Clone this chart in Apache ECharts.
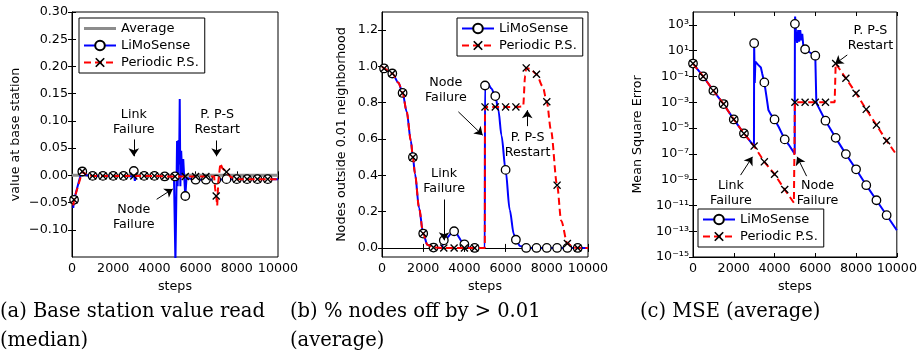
<!DOCTYPE html>
<html>
<head>
<meta charset="utf-8">
<script src="https://cdn.jsdelivr.net/npm/echarts@6/dist/echarts.min.js"></script>
<style>
html, body { margin: 0; padding: 0; background: #fff; }
#chart { width: 920px; height: 358px; }
</style>
</head>
<body>
<div id="chart"></div>
<script>
// ---- data ----
// (a) base station value (median)
var avgSteps = [0, 10000];
var avgVals = [0, 0];
var aLimoSteps = [60, 100, 450, 500, 700, 1000, 1500, 2000, 2500, 2950, 3000, 3050, 3100, 3500, 4000, 4500, 4950, 5000, 5020, 5050, 5080, 5100, 5130, 5170, 5200, 5230, 5260, 5300, 5350, 5400, 5450, 5500, 5560, 5600, 6000, 6500, 7000, 7500, 8000, 8500, 9000, 9500, 10000];
var aLimoVals = [-0.060, -0.045, 0.005, 0.007, 0.000, -0.001, -0.001, -0.001, -0.001, -0.002, 0.008, -0.010, -0.001, -0.001, -0.001, -0.002, -0.002, -0.002, -0.160, -0.160, 0.000, 0.063, -0.020, 0.065, 0.020, 0.140, -0.020, 0.045, 0.000, 0.030, -0.005, -0.038, -0.005, -0.007, -0.008, -0.008, -0.008, -0.007, -0.007, -0.007, -0.007, -0.007, -0.007];
var aPpsSteps = [60, 100, 500, 700, 1000, 1500, 2000, 2500, 3000, 3500, 4000, 4500, 5000, 5500, 6000, 6500, 6900, 6950, 7000, 7050, 7100, 7150, 7200, 7300, 7500, 7700, 8000, 8500, 9000, 9500, 10000];
var aPpsVals = [-0.055, -0.045, 0.007, 0.001, -0.001, -0.001, -0.001, -0.001, -0.001, -0.001, -0.001, -0.002, -0.002, -0.002, -0.002, -0.002, -0.002, -0.025, -0.038, -0.056, -0.012, 0.005, 0.022, 0.013, 0.006, -0.003, -0.007, -0.007, -0.007, -0.007, -0.007];
var abMarks = [100, 500, 1000, 1500, 2000, 2500, 3000, 3500, 4000, 4500, 5000, 5500, 6000, 6500, 7000, 7500, 8000, 8500, 9000, 9500];

// (b) fraction of nodes outside 0.01 neighborhood
var bLimoSteps = [0, 100, 500, 800, 1000, 1200, 1400, 1500, 1600, 1800, 2000, 2200, 2500, 2900, 3000, 3500, 4000, 4250, 4500, 4990, 5000, 5150, 5300, 5500, 5650, 5800, 6000, 6200, 6400, 6500, 6700, 7000, 7500, 8000, 8500, 9000, 9500, 10000];
var bLimoVals = [1.0, 0.989, 0.961, 0.91, 0.854, 0.75, 0.59, 0.50, 0.41, 0.22, 0.079, 0.018, 0.002, 0.0, 0.042, 0.092, 0.02, 0.002, 0.0, 0.0, 0.895, 0.905, 0.88, 0.837, 0.76, 0.62, 0.43, 0.21, 0.075, 0.045, 0.01, 0.0, 0.0, 0.0, 0.0, 0.0, 0.0, 0.0];
var bPpsSteps = [0, 100, 500, 800, 1000, 1200, 1400, 1500, 1600, 1800, 2000, 2200, 2500, 3000, 3500, 4000, 4500, 4990, 5000, 5500, 6000, 6500, 6850, 6950, 7000, 7200, 7500, 7800, 8000, 8200, 8500, 8700, 9000, 9300, 9500, 10000];
var bPpsVals = [1.0, 0.989, 0.961, 0.91, 0.854, 0.75, 0.59, 0.50, 0.41, 0.22, 0.079, 0.018, 0.002, 0.0, 0.0, 0.0, 0.0, 0.0, 0.777, 0.777, 0.777, 0.777, 0.78, 0.95, 0.992, 0.985, 0.957, 0.89, 0.805, 0.65, 0.346, 0.15, 0.024, 0.003, 0.0, 0.0];

// (c) mean square error, stored as log10
var cLimoSteps = [0, 500, 1000, 1500, 2000, 2500, 2990, 3000, 3030, 3060, 3100, 3200, 3330, 3400, 3500, 3600, 3700, 3800, 4000, 4200, 4500, 4700, 4990, 5000, 5010, 5060, 5110, 5160, 5210, 5260, 5310, 5360, 5410, 5500, 5700, 5900, 6000, 6050, 6100, 6500, 7000, 7500, 8000, 8500, 9000, 9500, 10000];
var cLimoLog = [0, -1, -2.1, -3.14, -4.33, -5.42, -6.4, 1.58, -1.5, 0.15, 0.0, -0.1, -0.3, -0.8, -1.46, -2.5, -3.6, -3.9, -4.33, -4.9, -5.88, -6.3, -7.0, 3.08, 3.65, 2.2, 1.6, 2.6, 1.7, 2.6, 1.8, 2.3, 1.4, 1.11, 0.9, 0.7, 0.61, -2.96, -3.2, -4.43, -5.76, -7.02, -8.2, -9.43, -10.6, -11.76, -12.93];
var cPpsSteps = [0, 500, 1000, 1500, 2000, 2500, 3000, 3500, 4000, 4500, 4950, 4990, 5000, 5500, 6000, 6500, 6950, 7000, 7500, 8000, 8500, 9000, 9500, 10000];
var cPpsLog = [0, -1, -2.1, -3.14, -4.33, -5.42, -6.4, -7.62, -8.58, -9.77, -10.8, -10.8, -3.0, -3.0, -3.0, -3.0, -3.0, 0.0, -1.14, -2.3, -3.55, -4.77, -5.99, -7.1];
var cMarks = [0, 500, 1000, 1500, 2000, 2500, 3000, 3500, 4000, 4500, 5000, 5500, 6000, 6500, 7000, 7500, 8000, 8500, 9000, 9500];

// tick values
var aTicks = [-0.10, -0.05, 0.00, 0.05, 0.10, 0.15, 0.20, 0.25, 0.30];
var bTicks = [0.0, 0.2, 0.4, 0.6, 0.8, 1.0, 1.2];
var cTickExp = [-15, -13, -11, -9, -7, -5, -3, -1, 1, 3];

// annotations (text position + arrow tail/head, in data coordinates)
var aNotes = [
    { text: 'Link\nFailure', at: [3000, 0.098], tail: [3000, 0.066], head: [3000, 0.035] },
    { text: 'Node\nFailure', at: [3000, -0.077], tail: [4110, -0.044], head: [4890, -0.025] },
    { text: 'P. P-S\nRestart', at: [7050, 0.098], tail: [7020, 0.064], head: [7020, 0.035] }
];
var bNotes = [
    { text: 'Node\nFailure', at: [3100, 0.867], tail: [3708, 0.75], head: [4888, 0.621] },
    { text: 'Link\nFailure', at: [3015, 0.369], tail: [3015, 0.267], head: [3015, 0.042] },
    { text: 'P. P-S\nRestart', at: [7067, 0.568], tail: [7050, 0.671], head: [7050, 0.759] }
];
var cNotes = [
    { text: 'Link\nFailure', at: [1863, -10.08], tail: [2335, -8.65], head: [2918, -7.23] },
    { text: 'Node\nFailure', at: [6110, -10.08], tail: [5574, -8.73], head: [5107, -7.23] },
    { text: 'P. P-S\nRestart', at: [8706, 1.96], tail: [7568, 0.67], head: [6970, -0.03] }
];

var FONT = 'DejaVu Sans';
var FS = 12.7;
var X_PATH = 'path://M0,1.2L1.2,0L5,3.8L8.8,0L10,1.2L6.2,5L10,8.8L8.8,10L5,6.2L1.2,10L0,8.8L3.8,5Z';
var SUP = { '0': '\u2070', '1': '\u00b9', '2': '\u00b2', '3': '\u00b3', '4': '\u2074', '5': '\u2075', '6': '\u2076', '7': '\u2077', '8': '\u2078', '9': '\u2079', '-': '\u207b' };

function pow10(arr) {
    return arr.map(function (e) { return Math.pow(10, e); });
}
function toData(steps, vals, marks, sym) {
    return steps.map(function (s, i) {
        return { value: [s, vals[i]], symbol: marks.indexOf(s) >= 0 ? sym : 'none' };
    });
}
function logLabel(v) {
    var e = String(Math.round(Math.log10(v)));
    return '10' + e.split('').map(function (c) { return SUP[c]; }).join('');
}
function minusLabel(v) {
    var s = Math.abs(v).toFixed(2);
    return v < -1e-9 ? '\u2212' + s : s;
}
function noteMarks(notes, isLog) {
    var yv = function (y) { return isLog ? Math.pow(10, y) : y; };
    return {
        markPoint: {
            silent: true,
            symbol: 'circle',
            symbolSize: 1,
            itemStyle: { color: 'rgba(0,0,0,0)' },
            label: {
                show: true, position: 'inside', color: '#000', fontFamily: FONT,
                fontSize: FS, lineHeight: 15, align: 'center',
                formatter: function (p) { return p.name; }
            },
            data: notes.map(function (n) { return { name: n.text, coord: [n.at[0], yv(n.at[1])] }; })
        },
        markLine: {
            silent: true,
            symbol: ['none', 'arrow'],
            symbolSize: 8,
            label: { show: false },
            lineStyle: { color: '#000', width: 1, type: 'solid' },
            data: notes.map(function (n) {
                return [{ coord: [n.tail[0], yv(n.tail[1])] }, { coord: [n.head[0], yv(n.head[1])] }];
            })
        }
    };
}

var grids = [
    { left: 72, top: 12, width: 206, height: 245 },
    { left: 382, top: 12, width: 206, height: 245 },
    { left: 693, top: 12, width: 205, height: 245 }
];
grids.forEach(function (g) {
    g.show = true;
    g.borderColor = '#000';
    g.borderWidth = 1;
    g.backgroundColor = '#fff';
});

var axisFont = { fontFamily: FONT, fontSize: FS, color: '#000' };

function xAxis(gi, pos) {
    var main = pos === 'bottom';
    return {
        gridIndex: gi, type: 'value', position: pos, min: 0, max: 10000, interval: 2000,
        name: main ? 'steps' : '', nameLocation: 'middle', nameGap: 20,
        nameTextStyle: axisFont,
        axisLine: { show: main, lineStyle: { color: '#000', width: 1 } },
        axisTick: { show: true, inside: true, length: 4, lineStyle: { color: '#000' } },
        axisLabel: Object.assign({ show: main, margin: 5, formatter: function (v) { return String(v); } }, axisFont),
        splitLine: { show: false }
    };
}
function yAxis(gi, pos, opt) {
    var main = pos === 'left';
    return {
        gridIndex: gi, type: opt.type || 'value', logBase: 10, position: pos,
        min: opt.min, max: opt.max,
        name: main ? opt.name : '', nameLocation: 'middle', nameGap: opt.gap,
        nameTextStyle: axisFont,
        axisLine: { show: main, lineStyle: { color: '#000', width: 1 } },
        axisTick: { show: true, inside: true, length: 4, customValues: opt.ticks, lineStyle: { color: '#000' } },
        axisLabel: Object.assign({ show: main, margin: 4, customValues: opt.ticks, formatter: opt.fmt }, axisFont),
        splitLine: { show: false }
    };
}

var aY = { min: -0.15, max: 0.30, ticks: aTicks, fmt: minusLabel, name: 'value at base station', gap: 50 };
var bY = { min: -0.05, max: 1.3, ticks: bTicks, fmt: function (v) { return v.toFixed(1); }, name: 'Nodes outside 0.01 neighborhood', gap: 34 };
var cY = { type: 'log', min: 1e-15, max: 1e4, ticks: pow10(cTickExp), fmt: logLabel, name: 'Mean Square Error', gap: 49 };

function limo(xi, data, extra) {
    return Object.assign({
        name: 'LiMoSense', type: 'line', xAxisIndex: xi, yAxisIndex: xi,
        data: data, symbol: 'circle', symbolSize: 8.5, showSymbol: true,
        itemStyle: { color: '#fff', borderColor: '#000', borderWidth: 1.3 },
        lineStyle: { color: '#0000ff', width: 2 },
        emphasis: { disabled: true }, z: 3
    }, extra || {});
}
function pps(xi, data, extra) {
    return Object.assign({
        name: 'Periodic P.S.', type: 'line', xAxisIndex: xi, yAxisIndex: xi,
        data: data, symbol: X_PATH, symbolSize: 8, showSymbol: true,
        itemStyle: { color: '#000', borderWidth: 0 },
        lineStyle: { color: '#ff0000', width: 2, type: [7, 4] },
        emphasis: { disabled: true }, z: 4
    }, extra || {});
}
var smoothB = { smooth: 0.3, smoothMonotone: 'x' };

var legendBase = {
    orient: 'vertical', selectedMode: false,
    backgroundColor: '#fff', borderColor: '#000', borderWidth: 1, borderRadius: 0,
    padding: [4, 6, 4, 4], itemGap: 4, itemWidth: 32, itemHeight: 12,
    textStyle: { fontFamily: FONT, fontSize: 13, color: '#000' }
};
var avgIcon = { name: 'Average', icon: 'path://M0,0L32,0L32,3L0,3Z' };

var captionStyle = { fontFamily: 'DejaVu Serif', fontSize: 19.5, lineHeight: 29, fill: '#000' };

var myChart = echarts.init(document.getElementById('chart'));
var option = {
    animation: false,
    backgroundColor: '#fff',
    grid: grids,
    xAxis: [xAxis(0, 'bottom'), xAxis(1, 'bottom'), xAxis(2, 'bottom'),
            xAxis(0, 'top'), xAxis(1, 'top'), xAxis(2, 'top')],
    yAxis: [yAxis(0, 'left', aY), yAxis(1, 'left', bY), yAxis(2, 'left', cY),
            yAxis(0, 'right', aY), yAxis(1, 'right', bY), yAxis(2, 'right', cY)],
    legend: [
        Object.assign({ data: [avgIcon, 'LiMoSense', 'Periodic P.S.'], left: 79, top: 18 }, legendBase),
        Object.assign({ data: ['LiMoSense', 'Periodic P.S.'], left: 457, top: 18 }, legendBase),
        Object.assign({ data: ['LiMoSense', 'Periodic P.S.'], left: 698, top: 209 }, legendBase)
    ],
    series: [
        {
            name: 'Average', type: 'line', xAxisIndex: 0, yAxisIndex: 0,
            data: avgSteps.map(function (s, i) { return [s, avgVals[i]]; }),
            symbol: 'none', lineStyle: { color: '#8c8c8c', width: 3 },
            itemStyle: { color: '#8c8c8c' }, emphasis: { disabled: true }, z: 2
        },
        limo(0, toData(aLimoSteps, aLimoVals, abMarks, 'circle')),
        pps(0, toData(aPpsSteps, aPpsVals, abMarks, X_PATH), noteMarks(aNotes, false)),
        limo(1, toData(bLimoSteps, bLimoVals, abMarks, 'circle'), smoothB),
        pps(1, toData(bPpsSteps, bPpsVals, abMarks, X_PATH), Object.assign({}, smoothB, noteMarks(bNotes, false))),
        limo(2, toData(cLimoSteps, pow10(cLimoLog), cMarks, 'circle')),
        pps(2, toData(cPpsSteps, pow10(cPpsLog), cMarks, X_PATH), noteMarks(cNotes, true))
    ],
    graphic: [
        { type: 'text', left: 0, top: 297, style: Object.assign({ text: '(a) Base station value read\n(median)' }, captionStyle) },
        { type: 'text', left: 290, top: 297, style: Object.assign({ text: '(b) % nodes off by > 0.01\n(average)' }, captionStyle) },
        { type: 'text', left: 640, top: 297, style: Object.assign({ text: '(c) MSE (average)' }, captionStyle) }
    ]
};
myChart.setOption(option);
</script>
</body>
</html>
